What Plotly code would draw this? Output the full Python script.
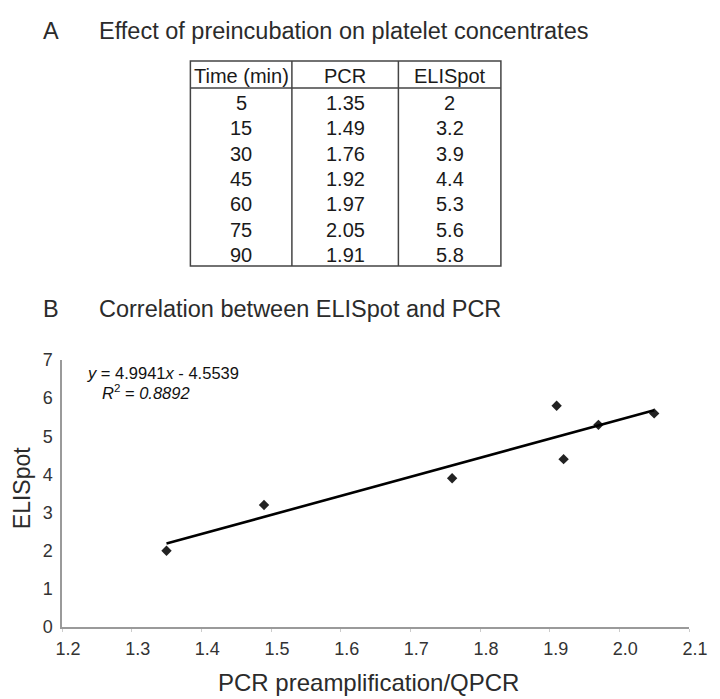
import plotly.graph_objects as go

# ---- data ----
times = [5, 15, 30, 45, 60, 75, 90]
pcr = [1.35, 1.49, 1.76, 1.92, 1.97, 2.05, 1.91]
elispot = [2, 3.2, 3.9, 4.4, 5.3, 5.6, 5.8]
table_headers = ["Time (min)", "PCR", "ELISpot"]
slope = 4.9941
intercept = -4.5539
r2 = 0.8892
x_ticks = [1.2, 1.3, 1.4, 1.5, 1.6, 1.7, 1.8, 1.9, 2.0, 2.1]
y_ticks = [0, 1, 2, 3, 4, 5, 6, 7]

OFF = 8                      # default page margin of the html body
W, H = 720 - OFF, 699 - OFF  # figure size so the page fits the window
L, R, T, B = 62, 692, 360, 627  # plot area, in window pixels


def px(x):
    return (x - L) / (R - L)


def py(y):
    return (B - y) / (B - T)


FONT = "Liberation Sans, Arial, sans-serif"
TXT = "#2b2b2b"

fig = go.Figure()
fig.add_trace(go.Scatter(
    x=pcr, y=elispot, mode="markers",
    marker=dict(symbol="diamond", size=8, color="#222"),
    showlegend=False, hoverinfo="x+y"))
xl = [min(pcr), max(pcr)]
fig.add_trace(go.Scatter(
    x=xl, y=[slope * v + intercept for v in xl], mode="lines",
    line=dict(color="black", width=2.6), showlegend=False, hoverinfo="skip"))

ann = []
shapes = []
# Section titles
tf = dict(family=FONT, size=23.5, color=TXT)
for lab, txt, yy in [("A", "Effect of preincubation on platelet concentrates", 31),
                     ("B", "Correlation between ELISpot and PCR", 309)]:
    ann.append(dict(x=px(41), y=py(yy), text=lab, xanchor="left", xref="paper", yref="paper",
                    showarrow=False, yanchor="middle", font=tf))
    ann.append(dict(x=px(97), y=py(yy), text=txt, xanchor="left", xref="paper", yref="paper",
                    showarrow=False, yanchor="middle", font=tf))

# Table
tx0, tx1, tx2, tx3 = 191, 293, 400, 503
ty_top, ty_head, ty_bot = 61, 88, 266
first_row, row_step = 103, 25.3
col_c = [(tx0 + tx1) / 2, (tx1 + tx2) / 2, (tx2 + tx3) / 2]
tfont = dict(family=FONT, size=20, color="#1a1a1a")
for c, h in zip(col_c, table_headers):
    ann.append(dict(x=px(c), y=py(76), text=h, xref="paper", yref="paper",
                    showarrow=False, font=tfont, xanchor="center", yanchor="middle"))
for i, (t, p, e) in enumerate(zip(times, pcr, elispot)):
    yc = first_row + row_step * i
    for c, s in zip(col_c, [str(t), f"{p:.2f}", f"{e:g}"]):
        ann.append(dict(x=px(c), y=py(yc), text=s, xref="paper", yref="paper",
                        showarrow=False, font=tfont, xanchor="center", yanchor="middle"))
lc = dict(color="#444", width=1.5)
shapes.append(dict(type="rect", xref="paper", yref="paper", x0=px(tx0), x1=px(tx3),
                   y0=py(ty_top), y1=py(ty_bot), line=lc))
shapes.append(dict(type="line", xref="paper", yref="paper", x0=px(tx0), x1=px(tx3),
                   y0=py(ty_head), y1=py(ty_head), line=lc))
for xv in (tx1, tx2):
    shapes.append(dict(type="line", xref="paper", yref="paper", x0=px(xv), x1=px(xv),
                       y0=py(ty_top), y1=py(ty_bot), line=lc))

# Equation
ann.append(dict(x=px(85), y=py(373), xref="paper", yref="paper", showarrow=False, xanchor="left",
                yanchor="middle", text=f"<i>y</i> = {slope}<i>x</i> - {abs(intercept)}",
                font=dict(family=FONT, size=16.5, color="#111")))
ann.append(dict(x=px(100), y=py(392), xref="paper", yref="paper", showarrow=False, xanchor="left",
                yanchor="middle", text=f"<i>R</i><sup>2</sup> = <i>{r2}</i>",
                font=dict(family=FONT, size=16.5, color="#111")))

# Axis titles
ann.append(dict(x=px(22), y=py(488), xref="paper", yref="paper", showarrow=False, textangle=-90,
                text="ELISpot", xanchor="center", yanchor="middle",
                font=dict(family=FONT, size=23, color=TXT)))
ann.append(dict(x=px(370), y=py(682), xref="paper", yref="paper", showarrow=False,
                text="PCR preamplification/QPCR", xanchor="center", yanchor="middle",
                font=dict(family=FONT, size=24, color=TXT)))

fig.update_layout(
    width=W, height=H, autosize=False,
    margin=dict(l=L - OFF, r=W - (R - OFF), t=T - OFF, b=H - (B - OFF), pad=0),
    paper_bgcolor="white", plot_bgcolor="white",
    annotations=ann, shapes=shapes,
    xaxis=dict(range=[1.2, 2.1], tickvals=x_ticks, ticktext=[f"{v:.1f}" for v in x_ticks],
               showgrid=False, zeroline=False, showline=True, linecolor="#9a9a9a", linewidth=1.5,
               ticks="outside", ticklen=3, tickcolor="#cccccc", ticklabelshift=6, ticklabelstandoff=2,
               tickfont=dict(family=FONT, size=18, color="#333")),
    yaxis=dict(range=[0, 7], tickvals=y_ticks, showgrid=False, zeroline=False, showline=True,
               linecolor="#9a9a9a", linewidth=1.5, ticks="", ticklabelstandoff=4,
               tickfont=dict(family=FONT, size=18, color="#333")),
)

fig.write_html("out.html")
